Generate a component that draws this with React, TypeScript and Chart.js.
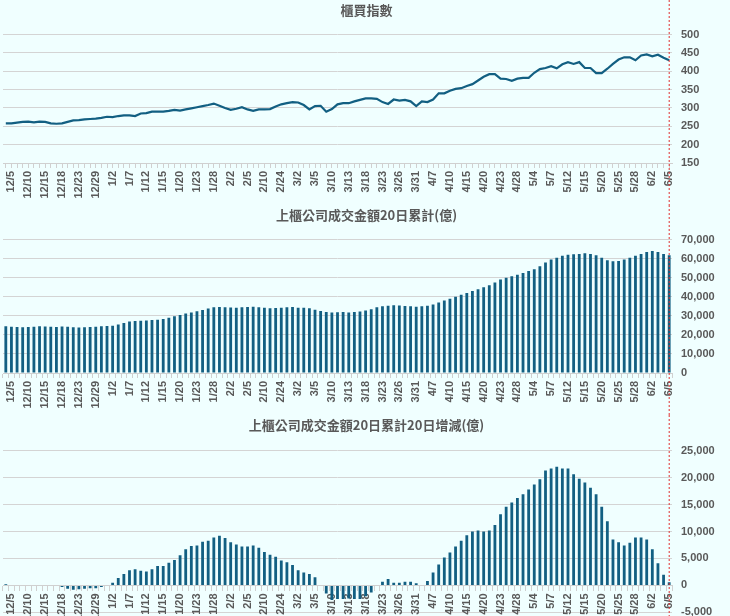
import React, { useEffect, useRef } from "react";
import { Chart, registerables } from "chart.js";
Chart.register(...registerables);

const tickLabels = ["12/5","12/10","12/15","12/18","12/23","12/29","1/2","1/7","1/12","1/15","1/20","1/23","1/28","2/2","2/5","2/10","2/24","3/2","3/5","3/10","3/13","3/18","3/23","3/26","3/31","4/7","4/10","4/15","4/20","4/23","4/28","5/4","5/7","5/12","5/15","5/20","5/25","5/28","6/2","6/5"];
const N = 119;
const categories: string[] = Array.from({ length: N }, (_, i) => (i % 3 === 1 ? tickLabels[(i - 1) / 3] : ""));

const indexValues = [258,258,
260,262,263, 261,263,262, 258,257,258, 262,266,267, 269,270,271, 273,276,275, 278,280,280, 278,285,286, 290,290,290,
292,295,293, 296,299,302, 305,308,312, 306,300,295, 298,302,296, 292,296,296, 297,304,310, 313,316,315, 308,296,305,
306,290,297, 310,313,313, 318,322,326, 326,325,316, 311,323,320, 322,318,305, 318,316,323, 340,340,347, 352,354,360,
365,375,385, 392,392,380, 379,374,380, 382,382,396, 406,409,414, 408,419,425, 420,425,409, 409,395,395, 407,420,432,
438,438,430, 443,446,441, 445,437,430];

const turnover20 = [24500,24300,24200,24000,24100,24300,24500,24400,24300,24200,24400,24300,24000,23900,24000,24200,24300,24500,24600,24800,
25500,26300,27000,27300,27400,27600,27800,28000,28300,
29000,29800,30500,31200,31800,32400,33000,33800,34500,
34600,34500,34400,34300,34500,34600,34700,34500,34300,
34000,34100,34300,34500,34600,34300,34200,34000,33200,
32500,32000,31800,31900,32000,31800,32000,32300,32800,
33500,34500,35000,35300,35500,35400,35200,35000,34800,
35000,35300,36000,37000,38000,39000,40000,41000,42000,
43000,44000,45000,46000,47500,49000,50000,50800,51500,
52500,53500,54500,56000,58000,59500,60500,61500,62000,
62300,62500,62800,62500,61800,60500,59200,58600,58800,
59500,60500,61500,62500,63500,64000,63500,62500,61800];

const change20 = [200,0,0,0,0,0,0,-100,0,-100,-300,-600,-800,-700,-600,-500,-500,-300,0,500,
1400,2100,2800,3000,2700,2600,3000,3600,3600,4200,4700,5600,6700,7300,7400,8100,8300,8900,9200,8800,
8000,7600,7200,7200,7400,7000,6200,5700,5300,4600,4300,3800,2800,2400,2100,1500,100,-1500,-2700,-2500,
-2500,-2400,-2500,-2500,-2000,-1300,0,
700,1200,500,500,700,700,400,0,800,2400,3900,5200,6100,7200,8300,9300,10000,10200,10000,
10200,11200,13200,14600,15400,16200,16900,17800,18700,19700,21300,21700,22000,21700,21700,20600,19800,19100,18100,16900,
14600,11900,8500,8000,7400,7900,8900,8900,8500,6700,4100,2000,600];

const BLUE = "#125f82";
const GRAY = "#595959";

const redLine = {
  id: "redLine",
  afterDraw(chart: any) {
    const x = chart.scales.x.getPixelForValue(N - 1);
    const ctx = chart.ctx;
    ctx.save();
    ctx.strokeStyle = "#e03030";
    ctx.lineWidth = 1;
    ctx.setLineDash([2, 2]);
    ctx.beginPath();
    ctx.moveTo(x, 0);
    ctx.lineTo(x, chart.height);
    ctx.stroke();
    ctx.restore();
  },
};

function makeOptions(title: string, min: number, max: number, step: number, fmt: boolean, topPad: number, xAtZero: boolean): any {
  return {
    animation: false,
    responsive: false,
    maintainAspectRatio: false,
    layout: { padding: { left: 3, right: 0, top: 0, bottom: xAtZero ? 3 : 0 } },
    plugins: {
      legend: { display: false },
      tooltip: { enabled: false },
      title: { display: true, text: title, color: GRAY, font: { size: 13, weight: "bold", family: "Noto Sans CJK TC" }, padding: { top: 2, bottom: topPad } },
    },
    scales: {
      x: {
        position: xAtZero ? { y: 0 } : "bottom",
        offset: true,
        grid: { display: true, drawOnChartArea: false, tickLength: 5, color: "#d0d0d0" },
        border: { color: "#d0d0d0" },
        ticks: { autoSkip: false, maxRotation: 90, minRotation: 90, color: GRAY, font: { size: 11, weight: "bold", family: "Liberation Sans" }, padding: 3 },
        afterFit: (s: any) => { if (!xAtZero) s.height = 42; },
      },
      y: {
        position: "right",
        min, max,
        grid: { color: "#d4d4d4", drawTicks: false },
        border: { display: false },
        ticks: {
          stepSize: step,
          color: GRAY,
          padding: 9,
          font: { size: 11, weight: "bold", family: "Liberation Sans" },
          callback: (v: number) => (fmt ? v.toLocaleString("en-US") : String(v)),
        },
        afterFit: (s: any) => { s.width = 58; },
      },
    },
  };
}

function Panel({ kind, height }: { kind: number; height: number }) {
  const ref = useRef<HTMLCanvasElement>(null);
  useEffect(() => {
    let cfg: any;
    if (kind === 0) {
      cfg = {
        type: "line",
        data: { labels: categories, datasets: [{ data: indexValues, borderColor: BLUE, borderWidth: 2.2, pointRadius: 0, tension: 0 }] },
        options: makeOptions("櫃買指數", 150, 500, 50, false, 17, false),
        plugins: [redLine],
      };
    } else if (kind === 1) {
      cfg = {
        type: "bar",
        data: { labels: categories, datasets: [{ data: turnover20, backgroundColor: BLUE, barPercentage: 0.5, categoryPercentage: 1 }] },
        options: makeOptions("上櫃公司成交金額20日累計(億)", 0, 70000, 10000, true, 17, false),
        plugins: [redLine],
      };
    } else {
      cfg = {
        type: "bar",
        data: { labels: categories, datasets: [{ data: change20, backgroundColor: BLUE, barPercentage: 0.5, categoryPercentage: 1 }] },
        options: makeOptions("上櫃公司成交金額20日累計20日增減(億)", -5000, 25000, 5000, true, 18, true),
        plugins: [redLine],
      };
    }
    const c = new Chart(ref.current!, cfg);
    return () => c.destroy();
  }, [kind]);
  return <canvas ref={ref} width={730} height={height} style={{ display: "block", width: 730, height }} />;
}

export default function App() {
  useEffect(() => { document.body.style.margin = "0"; document.body.style.background = "#f0ffff"; }, []);
  return (
    <div style={{ width: 730, background: "#f0ffff" }}>
      <Panel kind={0} height={205} />
      <Panel kind={1} height={210} />
      <Panel kind={2} height={213} />
    </div>
  );
}
